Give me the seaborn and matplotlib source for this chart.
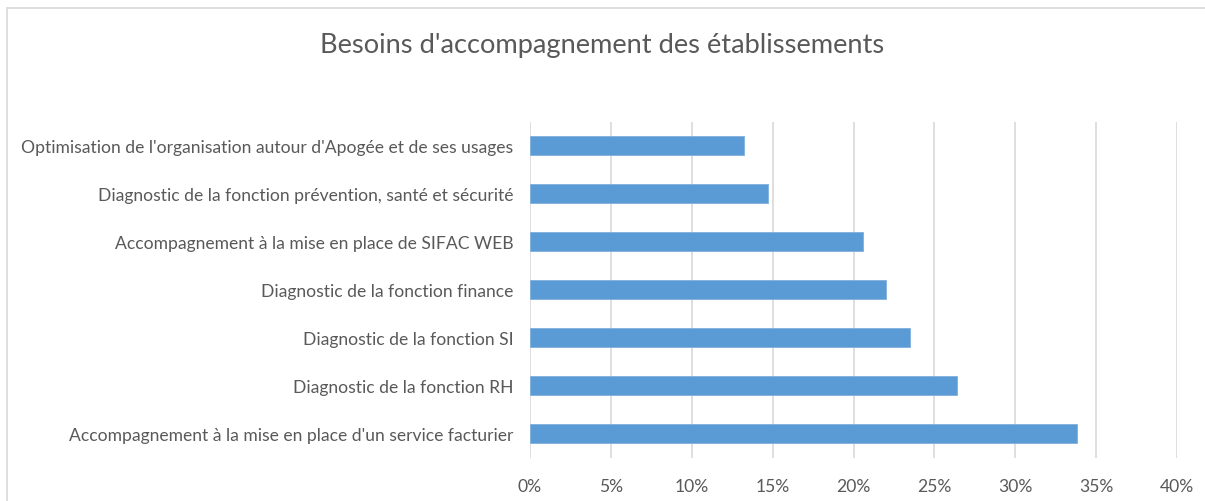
import matplotlib
matplotlib.use("Agg")
import matplotlib.pyplot as plt
import matplotlib.patches as mpatches
from matplotlib.ticker import PercentFormatter
import pandas as pd
import seaborn as sns

categories = [
    "Optimisation de l'organisation autour d'Apogée et de ses usages",
    "Diagnostic de la fonction prévention, santé et sécurité",
    "Accompagnement à la mise en place de SIFAC WEB",
    "Diagnostic de la fonction finance",
    "Diagnostic de la fonction SI",
    "Diagnostic de la fonction RH",
    "Accompagnement à la mise en place d'un service facturier",
]
values = [13.2, 14.7, 20.6, 22.0, 23.5, 26.4, 33.8]
x_ticks = [0, 5, 10, 15, 20, 25, 30, 35, 40]

TEXT = "#595959"
GRID = "#d9d9d9"
BAR = "#5b9bd5"

sns.set_theme(style="white")
plt.rcParams["font.family"] = ["Lato", "DejaVu Sans"]

df = pd.DataFrame({"besoin": categories, "part": values})

fig = plt.figure(figsize=(12.05, 5.02), dpi=100)
ax = fig.add_axes([530 / 1205, 1 - 458.5 / 502, (1177 - 530) / 1205, (458.5 - 122.5) / 502])

sns.barplot(data=df, x="part", y="besoin", ax=ax, color=BAR, width=0.4,
            saturation=1, edgecolor="#7fb0de", linewidth=0.6, zorder=3)

ax.set_xlim(0, 40)
ax.set_xticks(x_ticks)
ax.xaxis.set_major_formatter(PercentFormatter(decimals=0))
ax.grid(axis="x", color=GRID, linewidth=1.2, zorder=0)
ax.set_axisbelow(True)
for spine in ax.spines.values():
    spine.set_visible(False)
ax.tick_params(axis="both", length=0, labelsize=12.6, labelcolor=TEXT)
ax.tick_params(axis="x", pad=15)
ax.tick_params(axis="y", pad=12)
ax.set_xlabel("")
ax.set_ylabel("")

fig.text(0.5, 1 - 45 / 502, "Besoins d'accompagnement des établissements",
         ha="center", va="center", fontsize=19.6, color=TEXT)

border = mpatches.Rectangle((7 / 1205, -0.1), 1.2, 1.1 - 9 / 502,
                            transform=fig.transFigure, fill=False,
                            edgecolor=GRID, linewidth=1.2)
fig.patches.append(border)

fig.savefig("out.png", dpi=100)
